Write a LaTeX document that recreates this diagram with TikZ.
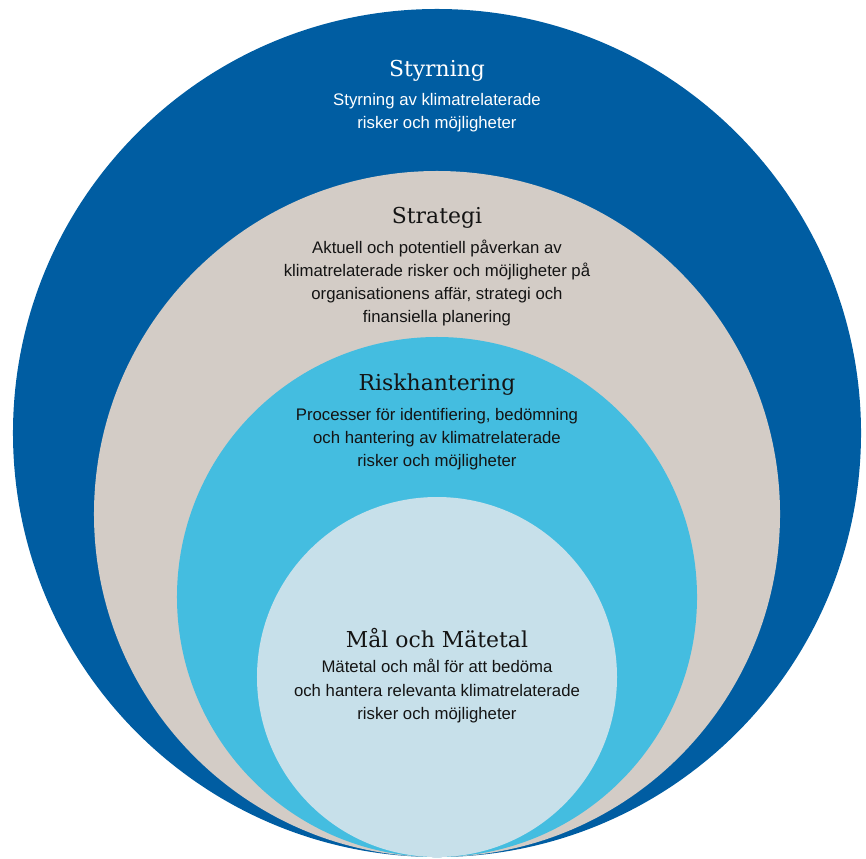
\documentclass[tikz,border=0pt]{standalone}
\usepackage{fontspec}
\setmainfont{Liberation Sans}
\newfontfamily\headfont{DejaVu Serif}
\usetikzlibrary{positioning}
\definecolor{styrblue}{HTML}{005DA2}
\definecolor{stratgrey}{HTML}{D3CCC6}
\definecolor{riskcyan}{HTML}{44BDE0}
\definecolor{malpale}{HTML}{C7E0EA}
\definecolor{inktext}{HTML}{141414}
\tikzset{
  ring/.style={circle, inner sep=0pt, draw=none},
  head/.style={font=\headfont\fontsize{18.7}{22}\selectfont, inner sep=0pt},
  desc/.style={align=center, font=\fontsize{14.3}{19.8}\selectfont, inner sep=0pt},
}

\begin{document}
\begin{tikzpicture}[x=0.03cm, y=-0.03cm]
    \useasboundingbox (0,0) rectangle (866,858);
    % nested circles, all touching at the bottom
    \node[ring, fill=styrblue, minimum size=25.44cm] (styr) at (437,433) {};
    \node[ring, fill=stratgrey, minimum size=20.58cm] (strat) at (437,514) {};
    \node[ring, fill=riskcyan, minimum size=15.6cm] (risk) at (437,597) {};
    \node[ring, fill=malpale, minimum size=10.8cm] (mal) at (437,677) {};
    % labels
    \node[head, text=white] (styrT) at (437,71) {Styrning};
    \node[desc, text=white] (styrD) at (437,113) {Styrning av klimatrelaterade\\risker och möjligheter};
    \node[head, text=inktext] (stratT) at (437,218) {Strategi};
    \node[desc, text=inktext] (stratD) at (437,283) {Aktuell och potentiell påverkan av\\klimatrelaterade risker och möjligheter på\\organisationens affär, strategi och\\finansiella planering};
    \node[head, text=inktext] (riskT) at (437,385) {Riskhantering};
    \node[desc, text=inktext] (riskD) at (437,439) {Processer för identifiering, bedömning\\och hantering av klimatrelaterade\\risker och möjligheter};
    \node[head, text=inktext] (malT) at (437,638) {Mål och Mätetal};
    \node[desc, text=inktext] (malD) at (437,691) {Mätetal och mål för att bedöma\\och hantera relevanta klimatrelaterade\\risker och möjligheter};
\end{tikzpicture}
\end{document}
